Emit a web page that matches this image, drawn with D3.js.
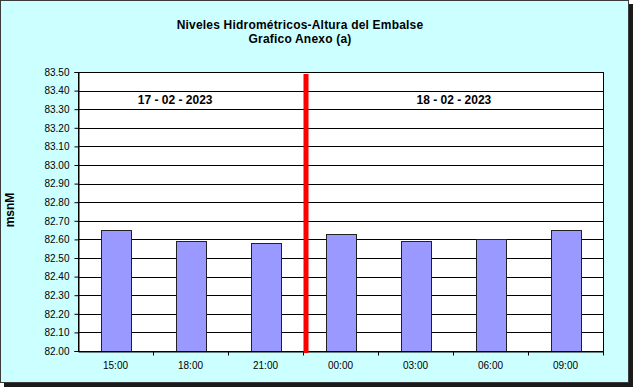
<!DOCTYPE html>
<html>
<head>
<meta charset="utf-8">
<script src="https://cdn.jsdelivr.net/npm/d3@7"></script>
<style>
  body { margin: 0; background: #fff; }
  svg { display: block; font-family: Arial, "Liberation Sans", sans-serif; }
</style>
</head>
<body>
<svg id="chart" width="633" height="387"></svg>
<script>
// Chart data
const categories = ["15:00", "18:00", "21:00", "00:00", "03:00", "06:00", "09:00"];
const levels = [82.65, 82.59, 82.58, 82.63, 82.59, 82.60, 82.65];
const yTicks = d3.range(0, 16).map((i) => 82 + i * 0.1);
const titleLines = ["Niveles Hidrométricos-Altura del Embalse", "Grafico Anexo (a)"];
const dateLabels = ["17 - 02 - 2023", "18 - 02 - 2023"];
const dateSplit = "00:00"; // red line sits where the second day starts

const W = 633, H = 387;
const margin = { top: 72, right: 30, bottom: 36, left: 78 };
const width = W - margin.left - margin.right;
const height = H - margin.top - margin.bottom;

const svg = d3.select("#chart");

// Frame with shadow
svg.append("rect").attr("x", 4).attr("y", 4).attr("width", W - 4).attr("height", H - 4).attr("fill", "#1a1a1a");
svg.append("rect")
    .attr("x", 0.5).attr("y", 0.5)
    .attr("width", W - 5).attr("height", H - 5)
    .attr("fill", "#ccffff")
    .attr("stroke", "#3c3c3c");

// Title
svg.append("g")
    .selectAll("text")
    .data(titleLines)
    .enter()
    .append("text")
    .attr("x", 300)
    .attr("y", (d, i) => 29 + i * 14)
    .attr("text-anchor", "middle")
    .style("font-size", "12px")
    .style("font-weight", "bold")
    .style("letter-spacing", "0.2px")
    .text((d) => d);

// Y axis title
svg.append("text")
    .attr("transform", "translate(14,210) rotate(-90)")
    .attr("text-anchor", "middle")
    .style("font-size", "12px")
    .style("font-weight", "bold")
    .text("msnM");

const g = svg.append("g").attr("transform", `translate(${margin.left},${margin.top})`);

// Scales
const x = d3.scaleBand().domain(categories).range([0, width]).paddingInner(0).paddingOuter(0);
const y = d3.scaleLinear().domain([82, 83.5]).range([height, 0]);
const barW = x.bandwidth() * 0.4;

g.append("rect").attr("width", width).attr("height", height).attr("fill", "#fff");

// Gridlines
g.append("g")
    .selectAll("line")
    .data(yTicks.slice(1))
    .enter()
    .append("line")
    .attr("x1", 0)
    .attr("x2", width)
    .attr("y1", (d) => Math.round(y(d)) + 0.5)
    .attr("y2", (d) => Math.round(y(d)) + 0.5)
    .attr("stroke", "#000");

// Bars
g.append("g")
    .selectAll("rect")
    .data(levels)
    .enter()
    .append("rect")
    .attr("x", (d, i) => Math.round(x(categories[i]) + (x.bandwidth() - barW) / 2) + 0.5)
    .attr("y", (d) => Math.round(y(d)) + 0.5)
    .attr("width", Math.round(barW))
    .attr("height", (d) => Math.round(height - y(d)))
    .attr("fill", "#9999ff")
    .attr("stroke", "#222");

// Date labels
g.append("g")
    .selectAll("text")
    .data(dateLabels)
    .enter()
    .append("text")
    .attr("x", (d, i) => width * [0.185, 0.716][i])
    .attr("y", y(83.35) + 4)
    .attr("text-anchor", "middle")
    .style("font-size", "12px")
    .style("font-weight", "bold")
    .text((d) => d);

// Plot border
g.append("rect")
    .attr("x", 0.5).attr("y", 0.5)
    .attr("width", width).attr("height", height)
    .attr("fill", "none")
    .attr("stroke", "#000");

// Axes
const yAxis = g.append("g")
    .attr("transform", "translate(0.5,0)")
    .call(d3.axisLeft(y).tickValues(yTicks).tickFormat(d3.format(".2f")).tickSizeOuter(0).tickSize(4).tickPadding(5));
yAxis.selectAll("text").style("font-size", "10px").attr("fill", "#000");

const xAxis = g.append("g")
    .attr("transform", `translate(0,${height + 0.5})`)
    .call(d3.axisBottom(x).tickSize(0).tickPadding(10));
xAxis.selectAll("text").style("font-size", "10px").attr("fill", "#000");
xAxis.select(".domain").attr("stroke", "#000");

// Ticks between categories
xAxis.selectAll(".sep")
    .data(categories.slice(1).concat(["end"]))
    .enter()
    .append("line")
    .attr("x1", (d, i) => Math.round(i + 1 < categories.length ? x(d) : width) + 0.5)
    .attr("x2", (d, i) => Math.round(i + 1 < categories.length ? x(d) : width) + 0.5)
    .attr("y1", 0)
    .attr("y2", 4)
    .attr("stroke", "#000");

// Red day separator
g.append("line")
    .attr("x1", x(dateSplit) + 3)
    .attr("x2", x(dateSplit) + 3)
    .attr("y1", 2)
    .attr("y2", height + 2)
    .attr("stroke", "#ff0000")
    .attr("stroke-width", 5);
</script>
</body>
</html>
